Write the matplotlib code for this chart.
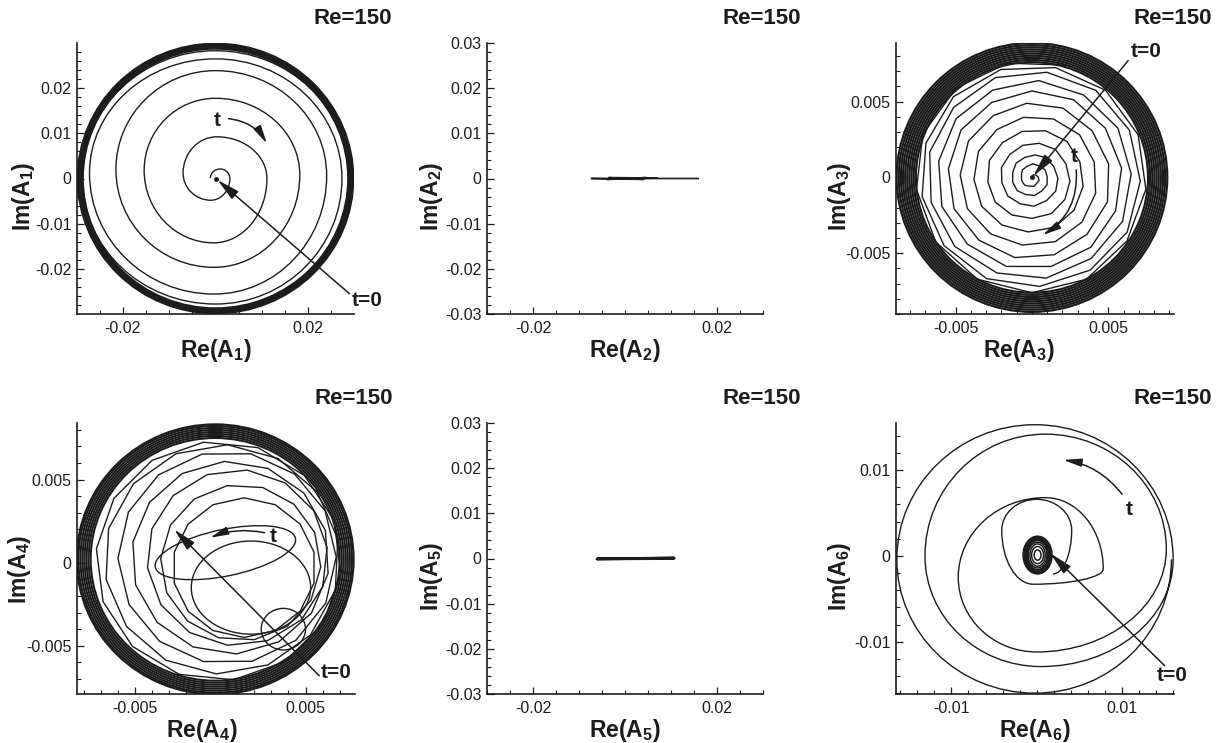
import numpy as np
import matplotlib
matplotlib.use("Agg")
import matplotlib.pyplot as plt
from matplotlib.path import Path
from matplotlib.patches import PathPatch, Circle, Ellipse, RegularPolygon
from matplotlib.ticker import FixedLocator, MultipleLocator, FuncFormatter

plt.rcParams['font.family'] = ['Liberation Sans', 'DejaVu Sans']
plt.rcParams['mathtext.fontset'] = 'custom'
plt.rcParams['mathtext.rm'] = 'Liberation Sans:bold'
plt.rcParams['mathtext.it'] = 'Liberation Sans:bold'
plt.rcParams['mathtext.bf'] = 'Liberation Sans:bold'
plt.rcParams['axes.unicode_minus'] = False

INK = '#1c1c1c'

# ====================== data ======================
title = 'Re=150'
mode_ids = ['1', '2', '3', '4', '5', '6']

# Panel 1 (A1): extreme points of the clockwise spiral (left, top, right, bottom, ...)
a1_re = [-0.0011, 0.0010, 0.0031, -0.0010, -0.0070, 0.0003, 0.0111, -0.0004,
         -0.0154, 0.0000, 0.0182, -0.0003, -0.0215, 0.0000, 0.0240, -0.0003,
         -0.0272, 0.0000, 0.0273, 0.0000, -0.0288, 0.0000, 0.0289, 0.0000]
a1_im = [0.0001, 0.0021, 0.0000, -0.0048, 0.0012, 0.0092, 0.0000, -0.0142,
         0.0018, 0.0177, 0.0008, -0.0196, 0.0020, 0.0238, 0.0006, -0.0255,
         0.0012, 0.0264, 0.0000, -0.0277, 0.0000, 0.0282, 0.0000, -0.0287]
a1_cycle_r = [0.0286, 0.0288, 0.0290, 0.0292, 0.0294, 0.0296, 0.0298]

# Panel 2 (A2): oscillation on the real axis
a2_re = [0.0, 0.0045, -0.0039, 0.0070, -0.0035, 0.0040, -0.0073, 0.0159]
a2_im = [0.0, 0.0002, -0.0002, 0.0001, 0.0002, -0.0002, 0.0, 0.0]

# Panel 3 (A3): radius of the polygonal clockwise spiral, vertex by vertex
a3_step_deg = 28.0
a3_r = [0.0000, 0.0002, 0.0003, 0.0004, 0.0005, 0.0005, 0.0006, 0.0006, 0.0007, 0.0007, 0.0007, 0.0008, 0.0008,
        0.0009, 0.0009, 0.0010, 0.0010, 0.0011, 0.0011, 0.0012, 0.0012, 0.0013, 0.0013, 0.0013, 0.0014, 0.0014,
        0.0015, 0.0016, 0.0016, 0.0017, 0.0018, 0.0018, 0.0019, 0.0019, 0.0020, 0.0020, 0.0021, 0.0021, 0.0022,
        0.0023, 0.0024, 0.0024, 0.0025, 0.0026, 0.0027, 0.0027, 0.0028, 0.0029, 0.0029, 0.0030, 0.0030, 0.0031,
        0.0032, 0.0033, 0.0033, 0.0034, 0.0035, 0.0036, 0.0036, 0.0037, 0.0038, 0.0038, 0.0039, 0.0039, 0.0040,
        0.0041, 0.0042, 0.0042, 0.0043, 0.0044, 0.0045, 0.0045, 0.0046, 0.0047, 0.0047, 0.0048, 0.0048, 0.0049,
        0.0050, 0.0050, 0.0051, 0.0052, 0.0052, 0.0053, 0.0054, 0.0054, 0.0055, 0.0055, 0.0056, 0.0056, 0.0057,
        0.0058, 0.0058, 0.0059, 0.0059, 0.0060, 0.0060, 0.0061, 0.0061, 0.0062, 0.0062, 0.0063, 0.0063, 0.0064,
        0.0064, 0.0065, 0.0065, 0.0066, 0.0066, 0.0067, 0.0067, 0.0068, 0.0068, 0.0069, 0.0069, 0.0070, 0.0070,
        0.0071, 0.0071, 0.0071, 0.0072, 0.0072, 0.0072, 0.0073, 0.0073, 0.0073, 0.0073, 0.0074, 0.0074, 0.0074,
        0.0075, 0.0075, 0.0075, 0.0075, 0.0076, 0.0076, 0.0076, 0.0076, 0.0076, 0.0077, 0.0077, 0.0077, 0.0077]
a3_cycle_r = [0.0076, 0.00774, 0.00788, 0.00802, 0.00816, 0.0083, 0.00844, 0.00858, 0.00872, 0.00886]

# Panel 4 (A4): transient loops, polygonal rings and the limit-cycle band
a4_loop_cx = [0.0003, 0.0018, 0.0037]
a4_loop_cy = [0.0006, -0.0015, -0.0040]
a4_loop_w = [0.0084, 0.0070, 0.0026]
a4_loop_h = [0.0028, 0.0056, 0.0025]
a4_loop_ang = [12, 0, 0]
a4_ring_cx = [0.0014, 0.0012, 0.0010, 0.0006, 0.0004, 0.0001, -0.0001]
a4_ring_cy = [-0.0003, 0.0000, 0.0003, 0.0003, 0.0003, 0.0002, 0.0001]
a4_ring_r = [0.0042, 0.0047, 0.0053, 0.0058, 0.0064, 0.0069, 0.0072]
a4_cycle_cx, a4_cycle_cy = -0.0003, 0.0002
a4_cycle_r = [0.0073, 0.00742, 0.00754, 0.00766, 0.00778, 0.0079, 0.00802, 0.00812]

# Panel 5 (A5): oscillation on the real axis
a5_re = [0.0, 0.0107, -0.0061, 0.0105, -0.0058]
a5_im = [0.0, 0.0001, -0.0001, 0.0, 0.0]

# Panel 6 (A6): dense core loops + counter-clockwise spiral extremes
a6_core_rx = [0.0004, 0.0007, 0.0009, 0.0011, 0.0012, 0.0013, 0.0014, 0.0015, 0.0016, 0.0017]
a6_core_ry = [0.0006, 0.0010, 0.0013, 0.0015, 0.0017, 0.0018, 0.0019, 0.0020, 0.0021, 0.0022]
a6_re = [0.0019, 0.0041, 0.0000, -0.0041, -0.0004, 0.0078, 0.0010, -0.0092, 0.0000,
         0.0152, 0.0010, -0.0131, 0.0005, 0.0160, -0.0002, -0.0164, -0.0002, 0.0158]
a6_im = [-0.0021, 0.0030, 0.0066, 0.0030, -0.0033, -0.0015, 0.0068, -0.0025, -0.0112,
         0.0008, 0.0142, 0.0000, -0.0129, -0.0004, 0.0153, -0.0004, -0.0160, -0.0004]

# annotations: (text position, arrow start, arrow tip)
ann_t = {
    0: dict(t=(0.0003, 0.0128), s=(0.0028, 0.0132), e=(0.0111, 0.0077), rad=-0.25),
    2: dict(t=(0.0028, 0.0014), s=(0.0029, 0.0005), e=(0.0007, -0.0038), rad=-0.3),
    3: dict(t=(0.0031, 0.0016), s=(0.0026, 0.0018), e=(-0.0006, 0.0015), rad=0.15),
    5: dict(t=(0.0108, 0.0054), s=(0.0100, 0.0072), e=(0.0031, 0.0112), rad=0.2),
}
ann_t0 = {
    0: dict(t=(0.0295, -0.0270), s=(0.0289, -0.0254), e=(0.0004, -0.0003)),
    2: dict(t=(0.0065, 0.0083), s=(0.0063, 0.0077), e=(0.0001, 0.0001)),
    3: dict(t=(0.0059, -0.0066), s=(0.0058, -0.0068), e=(-0.0027, 0.0020)),
    5: dict(t=(0.0141, -0.0139), s=(0.0150, -0.0128), e=(0.0016, 0.0003)),
}

# ====================== helpers ======================
K = 0.5523


def quadrant_path(xs, ys, start, ccw):
    order = ['top', 'left', 'bottom', 'right'] if ccw else ['top', 'right', 'bottom', 'left']
    if ccw:
        tang = {'top': (-1, 0), 'left': (0, -1), 'bottom': (1, 0), 'right': (0, 1)}
    else:
        tang = {'top': (1, 0), 'right': (0, -1), 'bottom': (-1, 0), 'left': (0, 1)}
    i0 = order.index(start)
    verts = [(xs[0], ys[0])]
    codes = [Path.MOVETO]
    for i in range(len(xs) - 1):
        a = order[(i0 + i) % 4]
        b = order[(i0 + i + 1) % 4]
        p0 = np.array([xs[i], ys[i]])
        p1 = np.array([xs[i + 1], ys[i + 1]])
        d = p1 - p0
        ta = np.array(tang[a], float)
        tb = np.array(tang[b], float)
        c1 = p0 + K * abs(d @ ta) * ta
        c2 = p1 - K * abs(d @ tb) * tb
        verts += [tuple(c1), tuple(c2), tuple(p1)]
        codes += [Path.CURVE4] * 3
    return Path(verts, codes)


def arrow(ax, start, tip, rad=0.0, ms=14):
    ax.annotate('', xy=tip, xytext=start, xycoords='data', textcoords='data',
                arrowprops=dict(arrowstyle='-|>,head_length=1.0,head_width=0.22',
                                mutation_scale=ms, color=INK, lw=1.1,
                                shrinkA=0, shrinkB=0,
                                connectionstyle=f'arc3,rad={rad}'),
                annotation_clip=False)


fmt = FuncFormatter(lambda v, _: "0" if abs(v) < 1e-12 else f"{v:g}")

W, H = 1226, 743
fig = plt.figure(figsize=(W / 100, H / 100), dpi=100)
rects = [(77, 43, 354, 314), (487, 43, 763, 314), (896, 43, 1174, 314),
         (77, 423, 355, 694), (487, 423, 763, 694), (896, 423, 1174, 694)]
axes = [fig.add_axes([l / W, 1 - b / H, (r - l) / W, (b - t) / H]) for (l, t, r, b) in rects]

lims = [((-0.0299, 0.0299), (-0.0299, 0.0299)),
        ((-0.03, 0.03), (-0.03, 0.03)),
        ((-0.0089, 0.0093), (-0.0090, 0.00886)),
        ((-0.0084, 0.0079), (-0.0079, 0.0084)),
        ((-0.03, 0.03), (-0.03, 0.03)),
        ((-0.0165, 0.0161), (-0.0161, 0.0155))]
xmaj = [[-0.02, 0.02], [-0.02, 0.02], [-0.005, 0.005], [-0.005, 0.005], [-0.02, 0.02], [-0.01, 0.01]]
xmin = [0.005, 0.005, 0.001, 0.001, 0.005, 0.002]
ymaj = [[-0.02, -0.01, 0, 0.01, 0.02], [-0.03, -0.02, -0.01, 0, 0.01, 0.02, 0.03],
        [-0.005, 0, 0.005], [-0.005, 0, 0.005],
        [-0.03, -0.02, -0.01, 0, 0.01, 0.02, 0.03], [-0.01, 0, 0.01]]
ymin = [0.002, 0.002, 0.001, 0.001, 0.002, 0.002]
xlab_x = [0.5, 0.5, 0.442, 0.45, 0.5, 0.5]
ylab_xy = [(-0.144, 0.432), (-0.152, 0.432), (-0.155, 0.432),
           (-0.158, 0.458), (-0.152, 0.435), (-0.155, 0.435)]

for i, ax in enumerate(axes):
    ax.set_xlim(*lims[i][0])
    ax.set_ylim(*lims[i][1])
    for s in ['top', 'right']:
        ax.spines[s].set_visible(False)
    for s in ['left', 'bottom']:
        ax.spines[s].set_linewidth(1.2)
        ax.spines[s].set_color(INK)
    ax.xaxis.set_major_locator(FixedLocator(xmaj[i]))
    ax.xaxis.set_minor_locator(MultipleLocator(xmin[i]))
    ax.yaxis.set_major_locator(FixedLocator(ymaj[i]))
    ax.yaxis.set_minor_locator(MultipleLocator(ymin[i]))
    ax.xaxis.set_major_formatter(fmt)
    ax.yaxis.set_major_formatter(fmt)
    ax.tick_params(which='both', direction='in', colors=INK, top=False, right=False)
    ax.tick_params(which='major', length=5.0, width=0.9, labelsize=11.5)
    ax.tick_params(which='minor', length=3.0, width=0.8)
    ax.tick_params(axis='y', which='both', pad=3.8)
    ax.tick_params(axis='x', which='both', pad=5.0)
    k = mode_ids[i]
    ax.set_xlabel(rf"$\mathrm{{Re(A_{k})}}$", fontsize=16.5, color=INK)
    ax.set_ylabel(rf"$\mathrm{{Im(A_{k})}}$", fontsize=16.5, color=INK)
    ax.xaxis.set_label_coords(xlab_x[i], -0.085)
    ax.yaxis.set_label_coords(*ylab_xy[i])
    ax.annotate(title, xy=(1, 1), xycoords='axes fraction', xytext=(38, 25),
                textcoords='offset pixels', ha='right', va='center', fontsize=16,
                fontweight='bold', color=INK, annotation_clip=False)

LW = 1.0
# ---- panel 1
ax = axes[0]
ax.add_patch(PathPatch(quadrant_path(a1_re, a1_im, 'left', ccw=False), fill=False, lw=LW, ec=INK))
for r in a1_cycle_r:
    ax.add_patch(Circle((0, 0), r, fill=False, lw=1.2, ec=INK))
ax.plot([0], [0], 'o', ms=2.5, color=INK)

# ---- panel 2
axes[1].plot(a2_re, a2_im, color=INK, lw=1.2)

# ---- panel 3
ax = axes[2]
th3 = np.deg2rad(90.0 - a3_step_deg * np.arange(len(a3_r)))
ax.plot(np.array(a3_r) * np.cos(th3), np.array(a3_r) * np.sin(th3), color=INK, lw=LW)
for r in a3_cycle_r:
    ax.add_patch(Circle((0, 0), r, fill=False, lw=1.6, ec=INK))
ax.plot([0], [0], 'o', ms=2.5, color=INK)

# ---- panel 4
ax = axes[3]
for cx, cy, w, h, a in zip(a4_loop_cx, a4_loop_cy, a4_loop_w, a4_loop_h, a4_loop_ang):
    ax.add_patch(Ellipse((cx, cy), w, h, angle=a, fill=False, lw=LW, ec=INK))
for j, (cx, cy, r) in enumerate(zip(a4_ring_cx, a4_ring_cy, a4_ring_r)):
    ax.add_patch(RegularPolygon((cx, cy), numVertices=14, radius=r, orientation=0.17 * j,
                                fill=False, lw=LW, ec=INK))
for r in a4_cycle_r:
    ax.add_patch(Circle((a4_cycle_cx, a4_cycle_cy), r, fill=False, lw=1.5, ec=INK))

# ---- panel 5
axes[4].plot(a5_re, a5_im, color=INK, lw=2.0)

# ---- panel 6
ax = axes[5]
for rx, ry in zip(a6_core_rx, a6_core_ry):
    ax.add_patch(Ellipse((0.0001, 0.0001), 2 * rx, 2 * ry, fill=False, lw=1.1, ec=INK))
ax.add_patch(PathPatch(quadrant_path(a6_re, a6_im, 'bottom', ccw=True), fill=False, lw=LW, ec=INK))

# ---- annotations
for i, d in ann_t.items():
    ax = axes[i]
    ax.text(*d['t'], 't', fontsize=15, fontweight='bold', ha='center', va='center',
            color=INK, clip_on=False)
    arrow(ax, d['s'], d['e'], rad=d['rad'], ms=11)
for i, d in ann_t0.items():
    ax = axes[i]
    ax.text(*d['t'], 't=0', fontsize=15, fontweight='bold', ha='left', va='center',
            color=INK, clip_on=False)
    arrow(ax, d['s'], d['e'], rad=0.0, ms=14)

fig.savefig('out.png', dpi=100)
